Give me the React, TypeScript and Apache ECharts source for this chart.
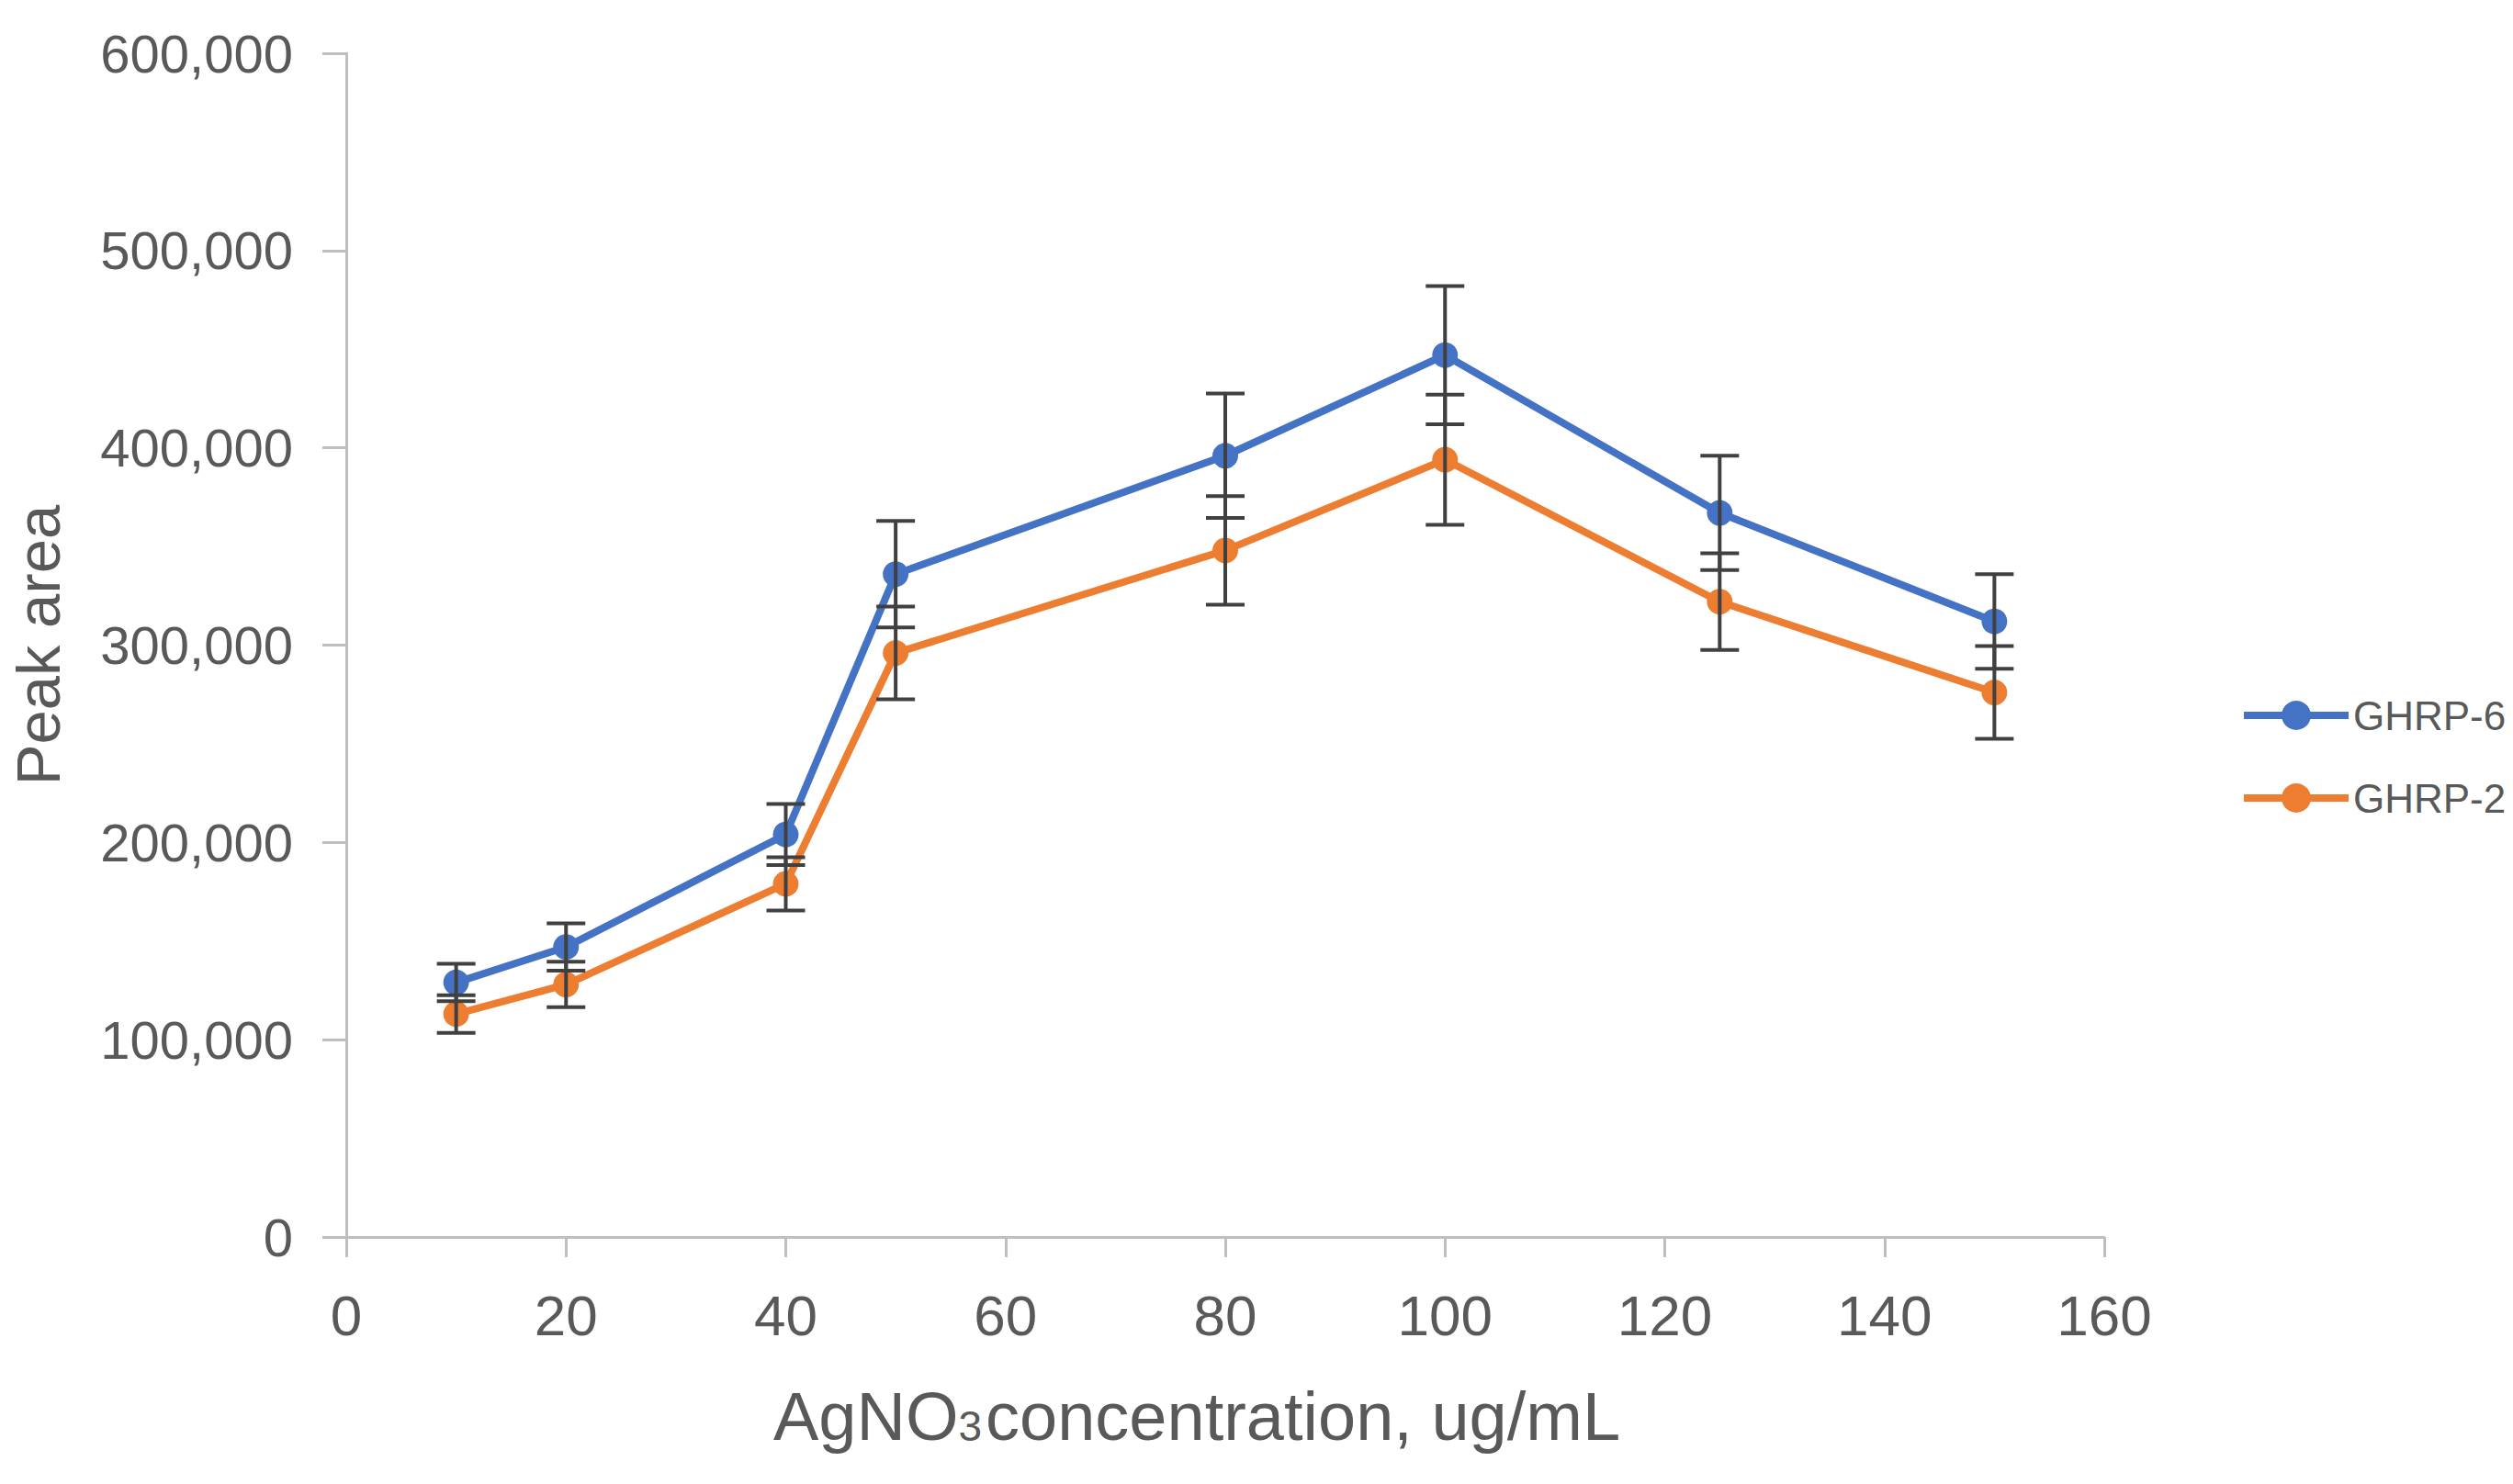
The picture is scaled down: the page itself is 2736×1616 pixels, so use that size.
import React, { useEffect, useRef } from "react";
import * as echarts from "echarts";

const concentrations = [10, 20, 40, 50, 80, 100, 125, 150];
const ghrp6 = [129000, 147000, 204000, 336000, 396000, 447000, 367000, 312000];
const ghrp6Err = [9500, 12000, 15500, 27000, 31500, 35000, 29000, 24000];
const ghrp2 = [113000, 128000, 179000, 296000, 348000, 394000, 322000, 276000];
const ghrp2Err = [9500, 11500, 13500, 23500, 27500, 33000, 24500, 23500];
const seriesNames = ["GHRP-6", "GHRP-2"];
const colors = ["#4472C4", "#ED7D31"];

const NARROW = '"Liberation Sans Narrow", "Arial Narrow", "Liberation Sans", Arial, sans-serif';
const SANS = '"Liberation Sans", Arial, sans-serif';
const TEXT = "#595959";
const AXIS = "#BFBFBF";

function errData(vals: number[], errs: number[]) {
  return concentrations.map((x, i) => [x, vals[i] - errs[i], vals[i] + errs[i]]);
}

const renderErr = (params: any, api: any) => {
  const x = api.value(0);
  const lo = api.coord([x, api.value(1)]);
  const hi = api.coord([x, api.value(2)]);
  const hw = 21;
  const style = { stroke: "#404040", lineWidth: 4 };
  return {
    type: "group",
    children: [
      { type: "line", shape: { x1: lo[0], y1: lo[1], x2: hi[0], y2: hi[1] }, style },
      { type: "line", shape: { x1: lo[0] - hw, y1: lo[1], x2: lo[0] + hw, y2: lo[1] }, style },
      { type: "line", shape: { x1: hi[0] - hw, y1: hi[1], x2: hi[0] + hw, y2: hi[1] }, style },
    ],
  };
};

export default function App() {
  const ref = useRef<HTMLDivElement>(null);
  useEffect(() => {
    const chart = echarts.init(ref.current!, null, { renderer: "svg" });
    const lineSeries = (name: string, vals: number[], color: string) => ({
      name,
      type: "line",
      data: concentrations.map((x, i) => [x, vals[i]]),
      symbol: "circle",
      symbolSize: 28,
      lineStyle: { color, width: 8 },
      itemStyle: { color },
      z: 2,
    });
    chart.setOption({
      animation: false,
      backgroundColor: "#ffffff",
      grid: { left: 356, top: 58, right: 445, bottom: 269, containLabel: false },
      legend: {
        data: seriesNames,
        orient: "vertical",
        left: 2434,
        top: 752,
        itemWidth: 114,
        itemHeight: 40,
        itemGap: 46,
        lineStyle: { width: 8 },
        textStyle: { fontSize: 44, color: TEXT, fontFamily: NARROW },
      },
      xAxis: {
        type: "value",
        min: 0,
        max: 160,
        interval: 20,
        splitLine: { show: false },
        axisLine: { show: true, lineStyle: { color: AXIS, width: 3 } },
        axisTick: { show: true, length: 22, lineStyle: { color: AXIS, width: 3 } },
        axisLabel: { fontSize: 62, color: TEXT, fontFamily: NARROW, margin: 54 },
        name: "{a|AgNO}{s|3}{a|concentration, ug/mL}",
        nameLocation: "middle",
        nameGap: 158,
        nameTextStyle: {
          padding: [0, 62, 0, 0],
          rich: {
            a: { fontSize: 74, color: TEXT, fontFamily: NARROW },
            s: { fontSize: 46, color: TEXT, fontFamily: NARROW, padding: [22, 4, 0, 0] },
          },
        },
      },
      yAxis: {
        type: "value",
        min: 0,
        max: 600000,
        interval: 100000,
        splitLine: { show: false },
        axisLine: { show: true, lineStyle: { color: AXIS, width: 3 } },
        axisTick: { show: true, length: 26, lineStyle: { color: AXIS, width: 3 } },
        axisLabel: {
          fontSize: 58,
          color: TEXT,
          fontFamily: SANS,
          margin: 58,
          formatter: (v: number) => v.toLocaleString("en-US"),
        },
        name: "Peak area",
        nameLocation: "middle",
        nameGap: 302,
        nameTextStyle: { fontSize: 67, color: TEXT, fontFamily: SANS },
      },
      series: [
        lineSeries(seriesNames[0], ghrp6, colors[0]),
        lineSeries(seriesNames[1], ghrp2, colors[1]),
        {
          name: "err6",
          type: "custom",
          renderItem: renderErr,
          data: errData(ghrp6, ghrp6Err),
          encode: { x: 0, y: [1, 2] },
          z: 5,
        },
        {
          name: "err2",
          type: "custom",
          renderItem: renderErr,
          data: errData(ghrp2, ghrp2Err),
          encode: { x: 0, y: [1, 2] },
          z: 5,
        },
      ],
    });
    return () => chart.dispose();
  }, []);
  return (
    <div
      ref={ref}
      style={{ position: "fixed", left: 0, top: 0, width: 2736, height: 1616, background: "#fff" }}
    />
  );
}
